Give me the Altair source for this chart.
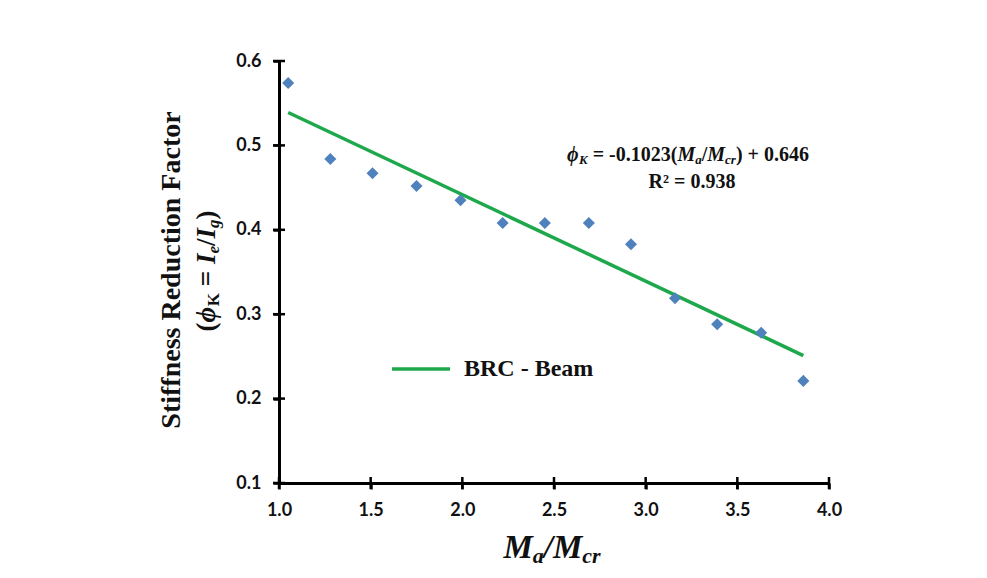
import altair as alt
import pandas as pd

# ---- data ----
ma_ratio = [1.05, 1.28, 1.51, 1.75, 1.99, 2.22, 2.45, 2.69, 2.92, 3.16, 3.39, 3.63, 3.86]
phi_k = [0.574, 0.484, 0.467, 0.452, 0.435, 0.408, 0.408, 0.408, 0.383, 0.319, 0.288, 0.278, 0.221]
fit_x = [1.05, 3.86]
fit_y = [0.539, 0.251]
series_name = ["BRC - Beam"]
x_ticks = [1.0, 1.5, 2.0, 2.5, 3.0, 3.5, 4.0]
y_ticks = [0.1, 0.2, 0.3, 0.4, 0.5, 0.6]

W, H = 550, 422
SERIF = "Liberation Serif"
BLUE = "#4F81BD"
GREEN = "#1EA84C"

# Times-Bold-like widths (per 1000 em)
UP = {'(': 333, ')': 333, '+': 570, '-': 333, '.': 250, '/': 278, '=': 570, ' ': 250,
      'R': 722, '²': 300, 'M': 944, 'K': 778, 'I': 389, 'a': 500, 'c': 444, 'r': 444,
      'e': 444, 'g': 500, 'S': 556, 't': 333, 'i': 278, 'f': 333, 'n': 556, 's': 389,
      'd': 556, 'u': 556, 'o': 500, 'F': 611, 'B': 667, 'C': 722, 'b': 556, 'm': 833,
      'ϕ': 600}
IT = {'M': 889, 'a': 500, 'c': 444, 'r': 389, 'I': 389, 'e': 444, 'g': 500, 'K': 667,
      'ϕ': 600, '/': 278}


def text_w(s, size, italic):
    tbl = IT if italic else UP
    return sum((tbl.get(ch, UP.get(ch, 500))) for ch in s) * size / 1000.0


def rich(segments, x, y, angle=0):
    """segments: (text, size, italic, shift)"""
    widths = [text_w(t, sz, it) for t, sz, it, sh in segments]
    total = sum(widths)
    pos = -total / 2.0
    layers = []
    for (t, sz, it, sh), w in zip(segments, widths):
        lead = len(t) - len(t.lstrip(" "))
        core = t.strip(" ")
        if core:
            layers.append(
                alt.Chart(pd.DataFrame({"t": [core]})).mark_text(
                    align="left", baseline="middle", font=SERIF, fontWeight="bold",
                    fontStyle="italic" if it else "normal", fontSize=sz, color="#111111",
                    angle=angle, dx=pos + lead * 250 * sz / 1000.0, dy=sh,
                ).encode(x=alt.value(x), y=alt.value(y), text="t:N")
            )
        pos += w
    return layers


x_scale = alt.Scale(domain=[1.0, 4.0], nice=False, zero=False)
y_scale = alt.Scale(domain=[0.1, 0.6], nice=False, zero=False)
common = dict(format=".1f", title=None, grid=False,
              domainColor="black", domainWidth=3, tickColor="black", tickWidth=2.5,
              tickSize=6, labelFont="Lato", labelFontWeight="bold", labelFontSize=18,
              labelColor="#111111", labelPadding=12, labelFlush=False)
x_axis = alt.Axis(values=x_ticks, **common)
y_axis = alt.Axis(values=y_ticks, **common)

pts_df = pd.DataFrame({"x": ma_ratio, "y": phi_k})
fit_df = pd.DataFrame({"x": fit_x, "y": fit_y, "s": series_name * len(fit_x)})

points = alt.Chart(pts_df).mark_point(shape="diamond", filled=True, size=145,
                                      color=BLUE, opacity=1).encode(
    x=alt.X("x:Q", scale=x_scale, axis=x_axis),
    y=alt.Y("y:Q", scale=y_scale, axis=y_axis),
)

fit = alt.Chart(fit_df).mark_line(strokeWidth=3.5).encode(
    x=alt.X("x:Q", scale=x_scale, axis=x_axis),
    y=alt.Y("y:Q", scale=y_scale, axis=y_axis),
    color=alt.Color("s:N", scale=alt.Scale(range=[GREEN]),
                    legend=alt.Legend(title=None, orient="none", legendX=111, legendY=277,
                                      symbolType="stroke", symbolSize=3364,
                                      symbolStrokeWidth=3.5, labelFont=SERIF,
                                      labelFontWeight="bold", labelFontSize=24,
                                      labelColor="#111111", labelOffset=12)),
)

xt_df = pd.DataFrame({"v": x_ticks})
yt_df = pd.DataFrame({"v": y_ticks})
x_in = alt.Chart(xt_df).mark_tick(color="black", thickness=2.5, size=12,
                                  orient="vertical", opacity=1).encode(
    x=alt.X("v:Q", scale=x_scale, axis=x_axis), y=alt.value(H))
y_in = alt.Chart(yt_df).mark_tick(color="black", thickness=2.5, size=12,
                                  orient="horizontal", opacity=1).encode(
    y=alt.Y("v:Q", scale=y_scale, axis=y_axis), x=alt.value(0))

texts = []
# equation
texts += rich([("ϕ", 20, True, 0), ("K", 13, True, 5), (" = -0.1023(", 20, False, 0),
               ("M", 20, True, 0), ("a", 13, True, 5), ("/", 20, False, 0),
               ("M", 20, True, 0), ("cr", 13, True, 5), (") + 0.646", 20, False, 0)],
              409, 94)
texts += rich([("R² = 0.938", 20, False, 0)], 413, 121)
# x title
texts += rich([("M", 33, True, 0), ("a", 22, True, 8), ("/", 33, True, 0),
               ("M", 33, True, 0), ("cr", 22, True, 8)], 273, 487)
# y title (two lines, rotated)
texts += rich([("Stiffness Reduction Factor", 28, False, 0)], -107, 209, angle=270)
texts += rich([("(", 27, False, 0), ("ϕ", 27, True, 0), ("K", 17, False, 7),
               (" = ", 27, False, 0), ("I", 27, True, 0), ("e", 17, True, 7),
               ("/", 27, False, 0), ("I", 27, True, 0), ("g", 17, True, 7),
               (")", 27, False, 0)], -72, 210, angle=270)

chart = alt.layer(fit, points, x_in, y_in, *texts).properties(
    width=W, height=H,
    background="white",
    autosize=alt.AutoSizeParams(type="none"),
    padding={"left": 271, "top": 53, "right": 140, "bottom": 90},
).configure_view(stroke=None)

chart.save("out.html", embed_options={"renderer": "svg", "actions": False})
